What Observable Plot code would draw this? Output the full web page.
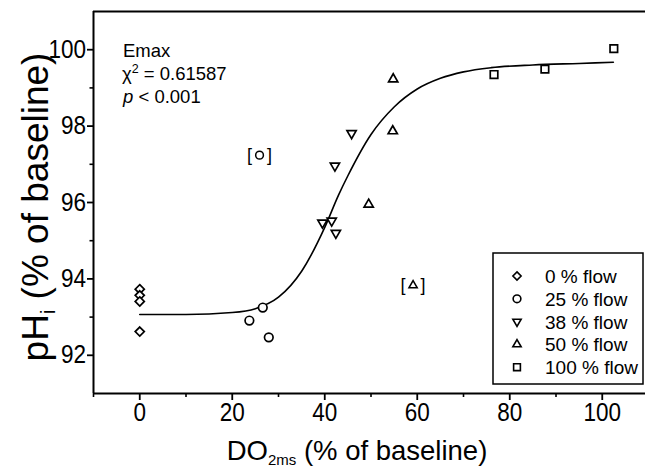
<!DOCTYPE html>
<html><head><meta charset="utf-8">
<script src="https://cdn.jsdelivr.net/npm/d3@7"></script>
<script src="https://cdn.jsdelivr.net/npm/@observablehq/plot@0.6"></script>
<style>
body{margin:0;background:#fff;}
#wrap{position:relative;width:645px;height:468px;}
</style></head><body><div id="wrap"></div>
<script>
// ---- data ----
const groups = ["0 % flow", "25 % flow", "38 % flow", "50 % flow", "100 % flow"];
const flow0X = [0, 0, 0, 0];
const flow0Y = [93.73, 93.57, 93.41, 92.62];
const flow25X = [23.7, 26.6, 27.9];
const flow25Y = [92.91, 93.25, 92.47];
const flow38X = [45.8, 42.2, 39.5, 41.5, 42.4];
const flow38Y = [97.81, 96.96, 95.47, 95.52, 95.20];
const flow50X = [54.8, 54.7, 49.5];
const flow50Y = [99.23, 97.87, 95.95];
const flow100X = [76.6, 87.6, 102.5];
const flow100Y = [99.35, 99.49, 100.03];
// excluded (bracketed) points
const outlierX = [25.9, 59.1];
const outlierY = [97.24, 93.83];
const outlierGroup = ["25 % flow", "50 % flow"];
// fitted Emax curve
const fitX = [0, 10, 20, 25, 30, 35, 40, 43, 45, 50, 55, 60, 65, 70, 76, 85, 95, 102.4];
const fitY = [93.07, 93.07, 93.12, 93.22, 93.52, 94.2, 95.35, 96.2, 96.7, 97.78, 98.5, 98.97, 99.25, 99.42, 99.53, 99.6, 99.64, 99.67];
const xTicks = [0, 20, 40, 60, 80, 100];
const xMinor = [-10, 10, 30, 50, 70, 90];
const yTicks = [92, 94, 96, 98, 100];
const yMinor = [93, 95, 97, 99];
const xDomain = [-10, 109.35];
const yDomain = [91, 101];
const statChi = "0.61587";
const statP = "0.001";

// ---- symbols ----
const triDown = {draw(ctx, size) {
  const s = Math.sqrt(size) * 0.6824, t = s / 2, u = s * Math.sqrt(3) / 2;
  ctx.moveTo(0, s); ctx.lineTo(-u, -t); ctx.lineTo(u, -t); ctx.closePath();
}};
const symbolOf = {
  "0 % flow": d3.symbolDiamond2,
  "25 % flow": d3.symbolCircle,
  "38 % flow": triDown,
  "50 % flow": d3.symbolTriangle2,
  "100 % flow": d3.symbolSquare2
};
const rOf = {"0 % flow": 4.1, "25 % flow": 4.3, "38 % flow": 4.4, "50 % flow": 4.4, "100 % flow": 4.8};

const seriesX = [flow0X, flow25X, flow38X, flow50X, flow100X];
const seriesY = [flow0Y, flow25Y, flow38Y, flow50Y, flow100Y];
const fit = fitX.map((x, i) => ({x, y: fitY[i]}));
const outliers = outlierX.map((x, i) => ({x, y: outlierY[i], g: outlierGroup[i]}));

const font = "'Liberation Sans', Arial, Helvetica, sans-serif";
const dotMarks = groups.map((g, k) => Plot.dot(seriesX[k].map((x, i) => ({x, y: seriesY[k][i]})), {
  x: "x", y: "y", symbol: symbolOf[g], r: rOf[g], fill: "white", stroke: "black", strokeWidth: 1.7
}));
const outlierMarks = groups.filter(g => outlierGroup.includes(g)).map(g => Plot.dot(outliers.filter(d => d.g === g), {
  x: "x", y: "y", symbol: symbolOf[g], r: rOf[g] * 0.9, fill: "white", stroke: "black", strokeWidth: 1.5
}));

const plot = Plot.plot({
  width: 645, height: 468,
  marginLeft: 93, marginRight: 0, marginTop: 11, marginBottom: 75,
  style: {fontFamily: font, fontSize: "25px", color: "black", background: "white", overflow: "visible"},
  x: {domain: xDomain, label: null},
  y: {domain: yDomain, label: null},
  marks: [
    Plot.axisX(xTicks, {tickSize: 7, tickPadding: 3, strokeWidth: 1.8, stroke: "black", label: null}),
    Plot.axisX(xMinor, {tickSize: 4, strokeWidth: 1.6, stroke: "black", tickFormat: () => "", label: null}),
    Plot.axisY(yTicks, {tickSize: 6, tickPadding: 1.5, strokeWidth: 1.8, stroke: "black", label: null}),
    Plot.axisY(yMinor, {tickSize: 3.5, strokeWidth: 1.6, stroke: "black", tickFormat: () => "", label: null}),
    Plot.ruleX([xDomain[0]], {strokeWidth: 2}),
    Plot.ruleY(yDomain, {strokeWidth: 2}),
    Plot.line(fit, {x: "x", y: "y", curve: "monotone-x", stroke: "black", strokeWidth: 1.6}),
    ...dotMarks,
    ...outlierMarks,
    Plot.text(outliers, {x: "x", y: "y", text: () => "[", dx: -10, fontSize: 18}),
    Plot.text(outliers, {x: "x", y: "y", text: () => "]", dx: 10, fontSize: 18})
  ]
});
document.getElementById("wrap").appendChild(plot);

// ---- slightly condensed tick labels, like the reference typeface ----
const svg = d3.select(plot);
svg.selectAll('g[aria-label="x-axis tick label"] text, g[aria-label="y-axis tick label"] text')
  .attr("transform", function() { return (this.getAttribute("transform") || "") + " scale(0.9,1)"; });

// ---- texts with sub/superscripts, and the legend ----
const g = svg.append("g").attr("font-family", font).attr("fill", "black").attr("text-anchor", "start");

// statistics block
const st = g.append("g").attr("font-size", 18.5);
st.append("text").attr("x", 123).attr("y", 57).text("Emax");
const chi = st.append("text").attr("x", 122).attr("y", 80);
chi.append("tspan").text("χ");
chi.append("tspan").attr("font-size", 12.5).attr("dy", -7.5).text("2");
chi.append("tspan").attr("dy", 7.5).text(" = " + statChi);
const pl = st.append("text").attr("x", 123).attr("y", 103);
pl.append("tspan").attr("font-style", "italic").text("p");
pl.append("tspan").text(" < " + statP);

// x title
const xt = g.append("text").attr("x", 357).attr("y", 460).attr("text-anchor", "middle").attr("font-size", 27.5);
xt.append("tspan").text("DO");
xt.append("tspan").attr("font-size", 15).attr("dy", 5).text("2ms");
xt.append("tspan").attr("dy", -5).text(" (% of baseline)");

// y title
const yt = g.append("text").attr("transform", "translate(48,207) rotate(-90)").attr("text-anchor", "middle").attr("font-size", 37);
yt.append("tspan").text("pH");
yt.append("tspan").attr("font-size", 20).attr("dy", 7).text("i");
yt.append("tspan").attr("dy", -7).text(" (% of baseline)");

// legend
const lg = g.append("g").attr("transform", "translate(493,253)");
lg.append("rect").attr("width", 150).attr("height", 131).attr("fill", "white").attr("stroke", "black").attr("stroke-width", 1.5);
groups.forEach((name, i) => {
  const cy = 23 + i * 22.8;
  const r = rOf[name] * 0.9;
  lg.append("path")
    .attr("transform", `translate(24,${cy})`)
    .attr("d", d3.symbol().type(symbolOf[name]).size(Math.PI * r * r)())
    .attr("fill", "white").attr("stroke", "black").attr("stroke-width", 1.6);
  lg.append("text").attr("x", 52).attr("y", cy + 7).attr("font-size", 19).text(name);
});
</script></body></html>
